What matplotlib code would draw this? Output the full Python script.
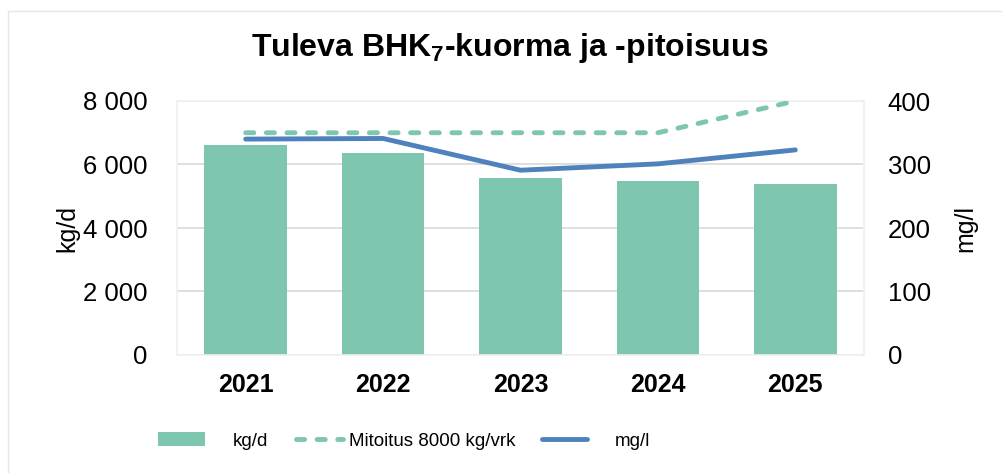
import matplotlib
matplotlib.use("Agg")
import matplotlib.pyplot as plt
from matplotlib.patches import Rectangle, Patch
from matplotlib.lines import Line2D

plt.rcParams['font.family'] = ['Liberation Sans', 'DejaVu Sans']
plt.rcParams['mathtext.fontset'] = 'custom'
plt.rcParams['mathtext.rm'] = 'Liberation Sans:bold'
plt.rcParams['mathtext.bf'] = 'Liberation Sans:bold'

years = ['2021', '2022', '2023', '2024', '2025']
kg_d = [6600, 6360, 5570, 5470, 5400]
mitoitus = [7000, 7000, 7000, 7000, 8000]
mg_l = [340, 341, 291, 301, 323]
left_ticks = [0, 2000, 4000, 6000, 8000]
left_labels = ['0', '2 000', '4 000', '6 000', '8 000']
right_ticks = [0, 100, 200, 300, 400]

green = '#7fc6b1'
blue = '#4f81bd'
grid = '#d9d9d9'
dash = (0, (1.67, 2.57))
LW = 3.5

fig = plt.figure(figsize=(10.03, 4.73), dpi=100)
fig.patches.append(Rectangle((8/1003, -0.1), 1.2, 1.1 - 11/473, transform=fig.transFigure,
                             fill=False, edgecolor='#e6e6e6', linewidth=1.0))

ax = fig.add_axes([177/1003, 1 - 355/473, 687/1003, 254/473])
x = list(range(len(years)))
ax.bar(x, kg_d, width=0.6, color=green, zorder=2)
ax.plot(x, mitoitus, color=green, linestyle=dash, linewidth=LW,
        dash_capstyle='round', zorder=3)
ax.set_xlim(-0.5, 4.5)
ax.set_ylim(0, 8000)
ax.set_yticks(left_ticks)
ax.set_yticklabels(left_labels)
ax.set_xticks(x)
ax.set_xticklabels(years, fontweight='bold')
ax.tick_params(axis='both', length=0, labelsize=18.5)
ax.tick_params(axis='x', labelsize=18, pad=13)
ax.tick_params(axis='y', pad=21)
for t in left_ticks:
    ax.axhline(t, color=grid, linewidth=1.2, zorder=1)
for s in ax.spines.values():
    s.set_color('#f0f0f0')
    s.set_linewidth(1.2)
ax.set_ylabel('kg/d', fontsize=18, labelpad=3)

ax2 = ax.twinx()
ax2.plot(x, mg_l, color=blue, linewidth=LW, solid_capstyle='round', zorder=4)
ax2.set_ylim(0, 400)
ax2.set_yticks(right_ticks)
ax2.tick_params(axis='y', length=0, labelsize=18.5, pad=17)
for s in ax2.spines.values():
    s.set_visible(False)
ax2.set_ylabel('mg/l', fontsize=18, labelpad=16)

fig.text(510/1003, 1 - 48/473, r'Tuleva BHK$_{7}$-kuorma ja -pitoisuus', ha='center', va='center',
         fontsize=23, fontweight='bold')

leg_font = {'family': ['Liberation Sans', 'DejaVu Sans'], 'size': 13.5}
em = 13.5 * 100 / 72
items = [
    (Patch(facecolor=green, edgecolor='none'), 'kg/d', 158, 47, 28, 14),
    (Line2D([0], [0], color=green, linestyle=dash, linewidth=LW, dash_capstyle='round'),
     'Mitoitus 8000 kg/vrk', 295.5, 47, 6.5, 14),
    (Line2D([0], [0], color=blue, linewidth=LW, solid_capstyle='round'), 'mg/l', 542.5, 45, 27.5, 14),
]
for h, lab, xl, hw, gap, hh in items:
    fig.legend([h], [lab], loc='center left', bbox_to_anchor=(xl/1003, 1 - 441/473),
               frameon=False, prop=leg_font, handlelength=hw/em, handleheight=hh/em,
               handletextpad=gap/em, borderpad=0, borderaxespad=0)

fig.savefig('out.png', dpi=100)
